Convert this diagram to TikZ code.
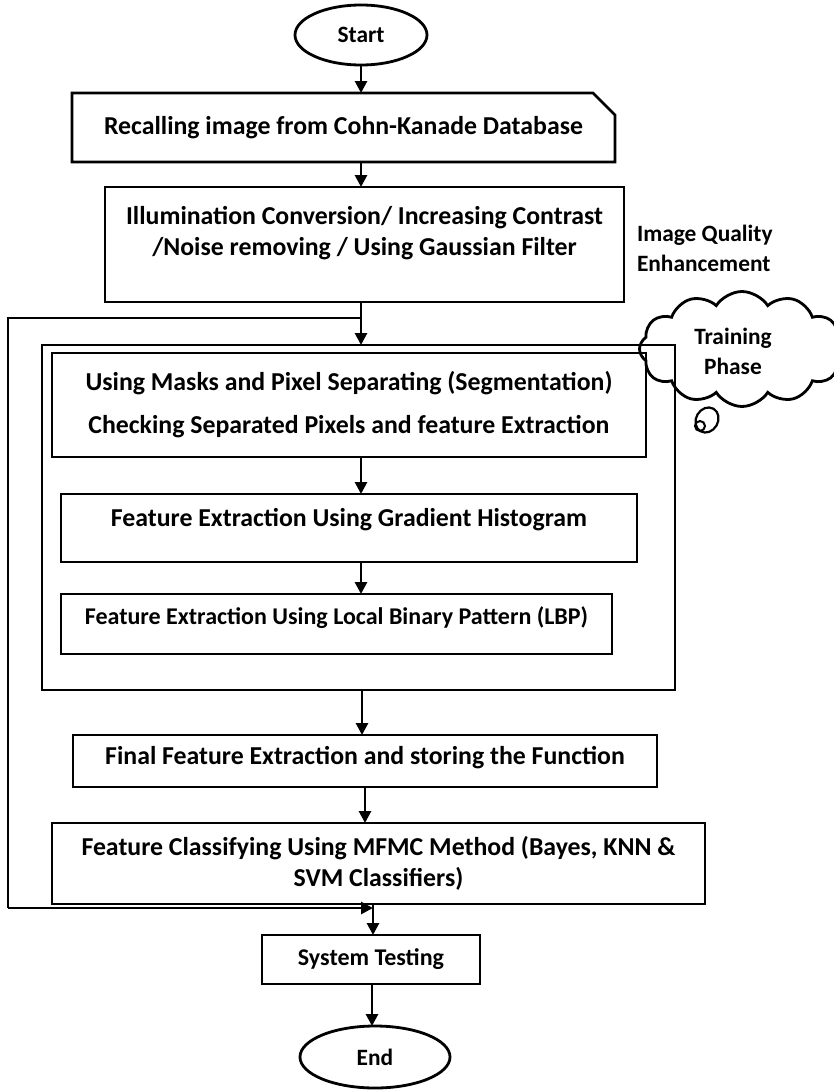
\documentclass[tikz,border=0pt]{standalone}
\usepackage{fontspec}
\setmainfont{Carlito}
\usetikzlibrary{arrows.meta,shapes.geometric,shapes.misc,shapes.symbols}
\begin{document}
\begin{tikzpicture}[x=1pt,y=-1pt,
  every node/.style={inner sep=0pt, outer sep=0pt},
  ln/.style={line width=2.8pt},
  box/.style={draw, ln, rectangle},
  bfnt/.style={font=\fontsize{25.8}{31}\selectfont\bfseries},
  sfnt/.style={font=\fontsize{23.4}{30}\selectfont\bfseries},
  mfnt/.style={font=\fontsize{24}{29}\selectfont\bfseries},
  term/.style={draw, ln, ellipse, sfnt},
  arr/.style={ln, -{Triangle[length=12pt,width=12pt]}},
]
\useasboundingbox (0,0) rectangle (834,1090);

% terminals
\node[term, minimum width=132pt, minimum height=60pt] (start) at (361,35) {Start};
\node[term, minimum width=150pt, minimum height=62pt] (end) at (375,1057) {End};

% top boxes
\node[draw, ln, chamfered rectangle, chamfered rectangle corners=north east,
      chamfered rectangle xsep=11pt, chamfered rectangle ysep=11pt,
      minimum width=543pt, minimum height=69pt, bfnt] (recall) at (343.5,127.5)
      {Recalling image from Cohn-Kanade Database};
\node[box, minimum width=519pt, minimum height=115pt,
      label={[bfnt, align=center, yshift=11.5pt]center:{Illumination Conversion/ Increasing Contrast\\/Noise removing / Using Gaussian Filter}}]
      (illum) at (364.5,244.5) {};
\node[sfnt, align=left, anchor=west] (iq) at (637,248) {Image Quality\\Enhancement};

% training phase group
\node[box, minimum width=633pt, minimum height=345pt] (outer) at (358.5,517.5) {};
\node[box, minimum width=594pt, minimum height=104pt,
      label={[bfnt, align=center]center:{Using Masks and Pixel Separating (Segmentation)\\[12pt]Checking Separated Pixels and feature Extraction}}]
      (masks) at (349,405) {};
\node[box, minimum width=576pt, minimum height=68pt,
      label={[bfnt, yshift=8pt]center:{Feature Extraction Using Gradient Histogram}}]
      (grad) at (349,528) {};
\node[box, minimum width=551pt, minimum height=60pt,
      label={[mfnt, yshift=6pt]center:{Feature Extraction Using Local Binary Pattern (LBP)}}]
      (lbp) at (336.5,624) {};

% cloud
\node[draw, ln, cloud, cloud puffs=12, cloud puff arc=115, aspect=1.8,
      minimum width=205pt, minimum height=115pt,
      label={[sfnt, align=center, xshift=-9pt, yshift=-2pt]center:{Training\\Phase}}]
      (cloud) at (742,349) {};
\node[draw, line width=2.2pt, ellipse, minimum width=22pt, minimum height=26pt, rotate=-30] (bub1) at (707,420) {};
\node[draw, line width=2pt, circle, minimum size=10pt] (bub2) at (700,426) {};

% lower boxes
\node[box, minimum width=584pt, minimum height=52pt,
      label={[bfnt, yshift=3pt]center:{Final Feature Extraction and storing the Function}}]
      (final) at (365,761) {};
\node[box, minimum width=653pt, minimum height=81pt, bfnt, align=center]
      (classify) at (378.5,863.5) {Feature Classifying Using MFMC Method (Bayes, KNN \&\\SVM Classifiers)};
\node[box, minimum width=218pt, minimum height=49pt, mfnt] (system) at (371,959.5) {System Testing};

% connector helper coordinates
\coordinate (cx) at (361,0);
\coordinate (j) at (361,318);
\coordinate (fbtop) at (8,318);
\coordinate (fbbot) at (8,908);
\coordinate (fbend) at (373,908);

% arrows
\draw[arr] (start.south -| cx) -- (recall.north -| cx);
\draw[arr] (recall.south -| cx) -- (illum.north -| cx);
\draw[arr] (illum.south -| cx) -- (outer.north -| cx);
\draw[ln] (j) -- (fbtop) -- (fbbot);
\draw[arr] (fbbot) -- (fbend);
\draw[arr] (masks.south -| cx) -- (grad.north -| cx);
\draw[arr] (grad.south -| cx) -- (lbp.north -| cx);
\draw[arr] ([xshift=1pt]outer.south -| cx) -- ([xshift=1pt]final.north -| cx);
\draw[arr] ([xshift=4pt]final.south -| cx) -- ([xshift=4pt]classify.north -| cx);
\draw[arr] ([xshift=12pt]classify.south -| cx) -- ([xshift=12pt]system.north -| cx);
\draw[arr] ([xshift=11pt]system.south -| cx) -- ([xshift=11pt]end.north -| cx);
\end{tikzpicture}
\end{document}
